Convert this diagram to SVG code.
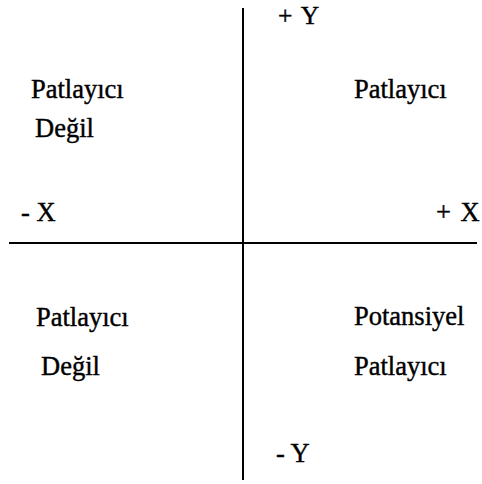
<svg xmlns="http://www.w3.org/2000/svg" width="482" height="484" viewBox="0 0 482 484">
<style>
text{font-family:"Liberation Serif","Times New Roman",serif;font-size:26.5px;fill:#000;stroke:#000;stroke-width:0.4}
.ax{stroke:#000;stroke-width:2;fill:none}
</style>
<rect width="482" height="484" fill="#fff"/>
<g id="axes">
<line class="ax" x1="243" y1="8" x2="243" y2="480"/>
<line class="ax" x1="9" y1="243" x2="477" y2="243"/>
</g>
<g id="labels">
<text x="278" y="23.5" word-spacing="3" style="font-size:25.5px">+ Y</text>
<text x="276" y="462">- Y</text>
<text x="21" y="221">- X</text>
<text x="436" y="221" word-spacing="3">+ X</text>
</g>
<g id="q2"><text x="31" y="98">Patlayıcı</text><text x="35" y="137">Değil</text></g>
<g id="q1"><text x="354" y="98">Patlayıcı</text></g>
<g id="q3"><text x="36" y="326">Patlayıcı</text><text x="41" y="375">Değil</text></g>
<g id="q4"><text x="354" y="325">Potansiyel</text><text x="354" y="375">Patlayıcı</text></g>
</svg>
